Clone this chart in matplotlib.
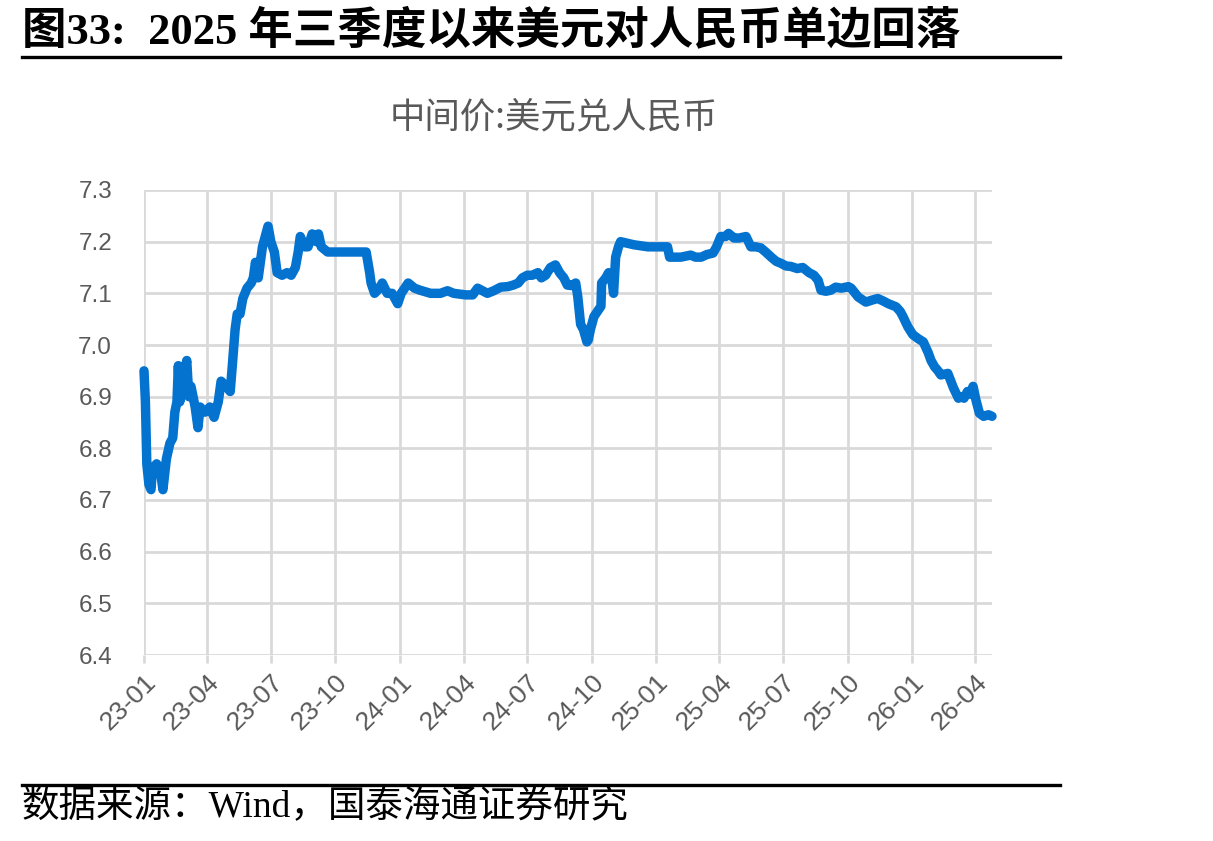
import matplotlib
matplotlib.use("Agg")
import matplotlib.pyplot as plt
import pandas as pd

plt.rcParams['font.family'] = ['Liberation Sans', 'Noto Sans CJK SC', 'DejaVu Sans']

# 中间价:美元兑人民币
dates = [
    "2023-01-01", "2023-01-03", "2023-01-05", "2023-01-08", "2023-01-11", "2023-01-13",
    "2023-01-19", "2023-01-24", "2023-01-28", "2023-02-02", "2023-02-07", "2023-02-11",
    "2023-02-14", "2023-02-17", "2023-02-19", "2023-02-21", "2023-02-26", "2023-03-03",
    "2023-03-06", "2023-03-09", "2023-03-15", "2023-03-19", "2023-03-22", "2023-03-29",
    "2023-04-05", "2023-04-11", "2023-04-17", "2023-04-21", "2023-04-28", "2023-05-04",
    "2023-05-07", "2023-05-11", "2023-05-14", "2023-05-18", "2023-05-22", "2023-05-28",
    "2023-06-03", "2023-06-06", "2023-06-09", "2023-06-13", "2023-06-19", "2023-06-23",
    "2023-06-27", "2023-07-01", "2023-07-06", "2023-07-10", "2023-07-17", "2023-07-24",
    "2023-07-30", "2023-08-05", "2023-08-09", "2023-08-12", "2023-08-18", "2023-08-23",
    "2023-08-29", "2023-09-04", "2023-09-07", "2023-09-11", "2023-09-20", "2023-10-08",
    "2023-10-30", "2023-11-14", "2023-11-19", "2023-11-21", "2023-11-26", "2023-12-03",
    "2023-12-07", "2023-12-14", "2023-12-21", "2023-12-29", "2024-01-03", "2024-01-13",
    "2024-01-22", "2024-01-30", "2024-02-14", "2024-02-28", "2024-03-09", "2024-03-18",
    "2024-04-04", "2024-04-14", "2024-04-21", "2024-04-28", "2024-05-05", "2024-05-14",
    "2024-05-24", "2024-06-03", "2024-06-11", "2024-06-18", "2024-06-24", "2024-07-01",
    "2024-07-08", "2024-07-16", "2024-07-21", "2024-07-27", "2024-08-03", "2024-08-10",
    "2024-08-16", "2024-08-22", "2024-08-27", "2024-09-02", "2024-09-08", "2024-09-11",
    "2024-09-15", "2024-09-19", "2024-09-24", "2024-09-26", "2024-09-29", "2024-10-04",
    "2024-10-09", "2024-10-14", "2024-10-15", "2024-10-21", "2024-10-25", "2024-10-29",
    "2024-11-01", "2024-11-04", "2024-11-08", "2024-11-11", "2024-11-30", "2024-12-20",
    "2025-01-03", "2025-01-17", "2025-01-20", "2025-02-05", "2025-02-19", "2025-02-26",
    "2025-03-06", "2025-03-14", "2025-03-23", "2025-03-28", "2025-04-03", "2025-04-10",
    "2025-04-14", "2025-04-22", "2025-04-29", "2025-05-09", "2025-05-16", "2025-05-23",
    "2025-05-30", "2025-06-06", "2025-06-14", "2025-06-21", "2025-06-28", "2025-07-05",
    "2025-07-12", "2025-07-21", "2025-07-29", "2025-08-07", "2025-08-14", "2025-08-20",
    "2025-08-24", "2025-08-31", "2025-09-07", "2025-09-14", "2025-09-22", "2025-10-02",
    "2025-10-06", "2025-10-16", "2025-10-27", "2025-11-05", "2025-11-13", "2025-11-21",
    "2025-11-28", "2025-12-09", "2025-12-15", "2025-12-19", "2025-12-26", "2026-01-02",
    "2026-01-10", "2026-01-17", "2026-01-24", "2026-01-28", "2026-02-02", "2026-02-07",
    "2026-02-11", "2026-02-21", "2026-03-01", "2026-03-08", "2026-03-12", "2026-03-16",
    "2026-03-21", "2026-03-25", "2026-03-29", "2026-04-02", "2026-04-07", "2026-04-13",
    "2026-04-20", "2026-04-25",
]
values = [
    6.95, 6.89, 6.77, 6.73, 6.72, 6.76,
    6.77, 6.76, 6.72, 6.78, 6.81, 6.82,
    6.87, 6.89, 6.96, 6.89, 6.93, 6.97,
    6.90, 6.92, 6.88, 6.84, 6.88, 6.87,
    6.88, 6.86, 6.89, 6.93, 6.92, 6.91,
    6.96, 7.03, 7.06, 7.06, 7.09, 7.11,
    7.12, 7.13, 7.16, 7.13, 7.19, 7.21,
    7.23, 7.20, 7.18, 7.14, 7.135, 7.14,
    7.135, 7.15, 7.18, 7.21, 7.19, 7.19,
    7.215, 7.20, 7.215, 7.19, 7.18, 7.18,
    7.18, 7.18, 7.14, 7.12, 7.10, 7.11,
    7.12, 7.10, 7.10, 7.08, 7.10, 7.12,
    7.11, 7.106, 7.10, 7.10, 7.105, 7.10,
    7.097, 7.097, 7.11, 7.105, 7.10, 7.105,
    7.112, 7.113, 7.116, 7.12, 7.13, 7.135,
    7.135, 7.14, 7.13, 7.135, 7.15, 7.155,
    7.14, 7.13, 7.116, 7.115, 7.12, 7.093,
    7.04, 7.03, 7.006, 7.01, 7.03, 7.055,
    7.065, 7.075, 7.12, 7.13, 7.14, 7.135,
    7.10, 7.17, 7.19, 7.20, 7.194, 7.19,
    7.19, 7.19, 7.17, 7.17, 7.174, 7.17,
    7.17, 7.175, 7.178, 7.19, 7.21, 7.21,
    7.216, 7.207, 7.207, 7.21, 7.19, 7.19,
    7.188, 7.18, 7.17, 7.162, 7.158, 7.153,
    7.152, 7.148, 7.15, 7.14, 7.135, 7.125,
    7.106, 7.104, 7.106, 7.112, 7.11, 7.113,
    7.11, 7.093, 7.083, 7.087, 7.09, 7.085,
    7.08, 7.074, 7.065, 7.055, 7.035, 7.02,
    7.012, 7.006, 6.985, 6.97, 6.958, 6.95,
    6.942, 6.945, 6.917, 6.897, 6.90, 6.897,
    6.91, 6.905, 6.92, 6.894, 6.868, 6.862,
    6.865, 6.862,
]
tick_dates = ["2023-01-01", "2023-04-01", "2023-07-01", "2023-10-01",
              "2024-01-01", "2024-04-01", "2024-07-01", "2024-10-01",
              "2025-01-01", "2025-04-01", "2025-07-01", "2025-10-01",
              "2026-01-01", "2026-04-01"]
tick_labels = ["23-01", "23-04", "23-07", "23-10", "24-01", "24-04", "24-07",
               "24-10", "25-01", "25-04", "25-07", "25-10", "26-01", "26-04"]
y_ticks = [6.4, 6.5, 6.6, 6.7, 6.8, 6.9, 7.0, 7.1, 7.2, 7.3]

x = pd.to_datetime(dates)
xt = pd.to_datetime(tick_dates)

W, H = 1213, 841
fig = plt.figure(figsize=(W / 100, H / 100), dpi=100)

# 绘图区
ax = fig.add_axes([144 / W, 1 - 655 / H, (992 - 144) / W, (655 - 190) / H])
ax.plot(x, values, color='#0473CF', linewidth=6.8, solid_joinstyle='round',
        solid_capstyle='round', clip_on=False, zorder=3)
ax.set_xlim(x[0], x[-1])
ax.set_ylim(6.4, 7.3)
ax.set_yticks(y_ticks)
ax.set_yticklabels([f"{v:.1f}" for v in y_ticks])
ax.set_xticks(xt)
ax.set_xticklabels(tick_labels, rotation=45, ha='right', va='top',
                   rotation_mode='anchor')
ax.grid(True, color='#D9D9D9', linewidth=2.0)
ax.set_axisbelow(True)
for s in ax.spines.values():
    s.set_visible(False)
ax.tick_params(axis='y', length=0, pad=23, labelsize=17.5, labelcolor='#595959')
ax.tick_params(axis='x', length=6, width=2.0, color='#D9D9D9', pad=5,
               labelsize=19, labelcolor='#595959')

# 标题
fig.text(22 / W, 1 - 31 / H, "图33:  2025 年三季度以来美元对人民币单边回落",
         fontsize=32, fontweight='bold', va='center', ha='left',
         family=['Liberation Serif', 'Noto Sans CJK SC'])
fig.add_artist(plt.Line2D([22 / W, 1060 / W], [1 - 57 / H, 1 - 57 / H],
                          color='black', linewidth=2.4))

fig.text(554 / W, 1 - 117 / H, "中间价:美元兑人民币", fontsize=25.5,
         color='#595959', ha='center', va='center',
         family=['Noto Sans CJK SC', 'DejaVu Sans'])

# 数据来源
fig.add_artist(plt.Line2D([22 / W, 1060 / W], [1 - 785 / H, 1 - 785 / H],
                          color='black', linewidth=2.4))
fig.text(22 / W, 1 - 807 / H, "数据来源：Wind，国泰海通证券研究", fontsize=27,
         ha='left', va='center', family=['Liberation Serif', 'Noto Sans CJK SC'])

fig.savefig("out.png", dpi=100)
